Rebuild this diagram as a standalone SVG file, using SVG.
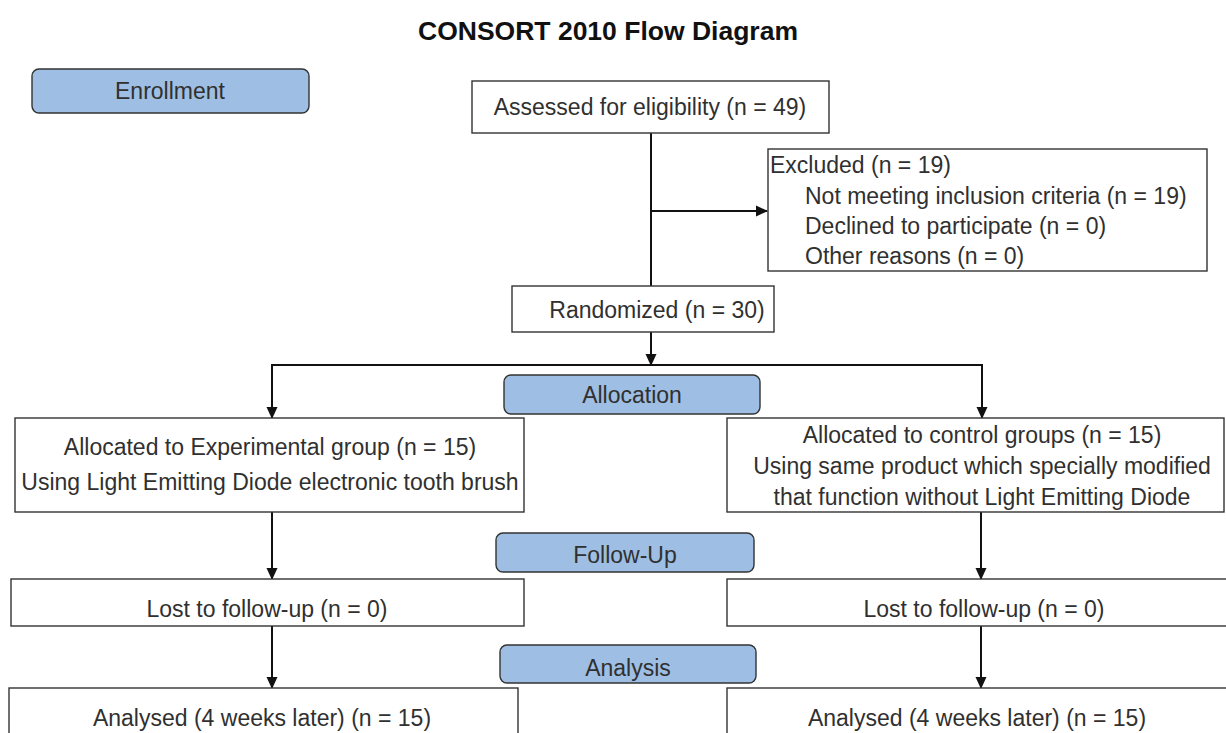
<svg xmlns="http://www.w3.org/2000/svg" width="1226" height="733" viewBox="0 0 1226 733">
<style>
.box{fill:#ffffff;stroke:#333333;stroke-width:1.4}
.stage{fill:#9ebfe3;stroke:#333333;stroke-width:1.4}
.t{font-family:"Liberation Sans",Arial,sans-serif;font-size:23px;fill:#303030}
.c{text-anchor:middle}
.title{font-family:"Liberation Sans",Arial,sans-serif;font-size:26.5px;font-weight:bold;fill:#111;text-anchor:middle}
.ln{fill:none;stroke:#111;stroke-width:2}
</style>
<defs>
<marker id="ah" markerWidth="12" markerHeight="12" refX="11" refY="6" orient="auto" markerUnits="userSpaceOnUse" viewBox="0 0 12 12">
<path d="M0,0.5 L12,6 L0,11.5 Z" fill="#111"/>
</marker>
</defs>
<rect width="1226" height="733" fill="#ffffff"/>
<text class="title" x="608" y="40">CONSORT 2010 Flow Diagram</text>

<g id="connectors">
<line class="ln" x1="651" y1="133" x2="651" y2="286"/>
<line class="ln" x1="651" y1="211" x2="767" y2="211" marker-end="url(#ah)"/>
<line class="ln" x1="651" y1="332" x2="651" y2="365" marker-end="url(#ah)"/>
<line class="ln" x1="271" y1="365" x2="983" y2="365"/>
<line class="ln" x1="272" y1="365" x2="272" y2="418" marker-end="url(#ah)"/>
<line class="ln" x1="982" y1="365" x2="982" y2="418" marker-end="url(#ah)"/>
<line class="ln" x1="272" y1="512" x2="272" y2="579" marker-end="url(#ah)"/>
<line class="ln" x1="981" y1="512" x2="981" y2="579" marker-end="url(#ah)"/>
<line class="ln" x1="272" y1="626" x2="272" y2="688" marker-end="url(#ah)"/>
<line class="ln" x1="981" y1="626" x2="981" y2="688" marker-end="url(#ah)"/>
</g>

<g id="enrollment">
<rect class="stage" x="32" y="69" width="277" height="44" rx="7"/>
<text class="t c" x="170" y="99">Enrollment</text>
</g>
<g id="assessed">
<rect class="box" x="472" y="81" width="357" height="52"/>
<text class="t c" x="650" y="115">Assessed for eligibility (n = 49)</text>
</g>
<g id="excluded">
<rect class="box" x="768" y="149" width="439" height="122"/>
<text class="t" x="770" y="173">Excluded (n = 19)</text>
<text class="t" x="805" y="204">Not meeting inclusion criteria (n = 19)</text>
<text class="t" x="805" y="234">Declined to participate (n = 0)</text>
<text class="t" x="805" y="264">Other reasons (n = 0)</text>
</g>
<g id="randomized">
<rect class="box" x="512" y="286" width="262" height="46"/>
<text class="t c" x="657" y="318">Randomized (n = 30)</text>
</g>
<g id="allocation">
<rect class="stage" x="504" y="375" width="256" height="39" rx="7"/>
<text class="t c" x="632" y="403">Allocation</text>
</g>
<g id="experimental">
<rect class="box" x="15" y="418" width="509" height="94"/>
<text class="t c" x="270" y="455">Allocated to Experimental group (n = 15)</text>
<text class="t c" x="270" y="490">Using Light Emitting Diode electronic tooth brush</text>
</g>
<g id="control">
<rect class="box" x="727" y="418" width="497" height="94"/>
<text class="t c" x="982" y="443">Allocated to control groups (n = 15)</text>
<text class="t c" x="982" y="474">Using same product which specially modified</text>
<text class="t c" x="982" y="505">that function without Light Emitting Diode</text>
</g>
<g id="followup">
<rect class="stage" x="496" y="533" width="258" height="39" rx="7"/>
<text class="t c" x="625" y="563">Follow-Up</text>
</g>
<g id="lost-left">
<rect class="box" x="11" y="579" width="513" height="47"/>
<text class="t c" x="267" y="617">Lost to follow-up (n = 0)</text>
</g>
<g id="lost-right">
<rect class="box" x="727" y="579" width="500" height="47"/>
<text class="t c" x="984" y="617">Lost to follow-up (n = 0)</text>
</g>
<g id="analysis">
<rect class="stage" x="500" y="645" width="256" height="38" rx="7"/>
<text class="t c" x="628" y="676">Analysis</text>
</g>
<g id="analysed-left">
<rect class="box" x="9" y="688" width="509" height="60"/>
<text class="t c" x="262" y="726">Analysed (4 weeks later) (n = 15)</text>
</g>
<g id="analysed-right">
<rect class="box" x="727" y="688" width="510" height="60"/>
<text class="t c" x="977" y="726">Analysed (4 weeks later) (n = 15)</text>
</g>
</svg>
